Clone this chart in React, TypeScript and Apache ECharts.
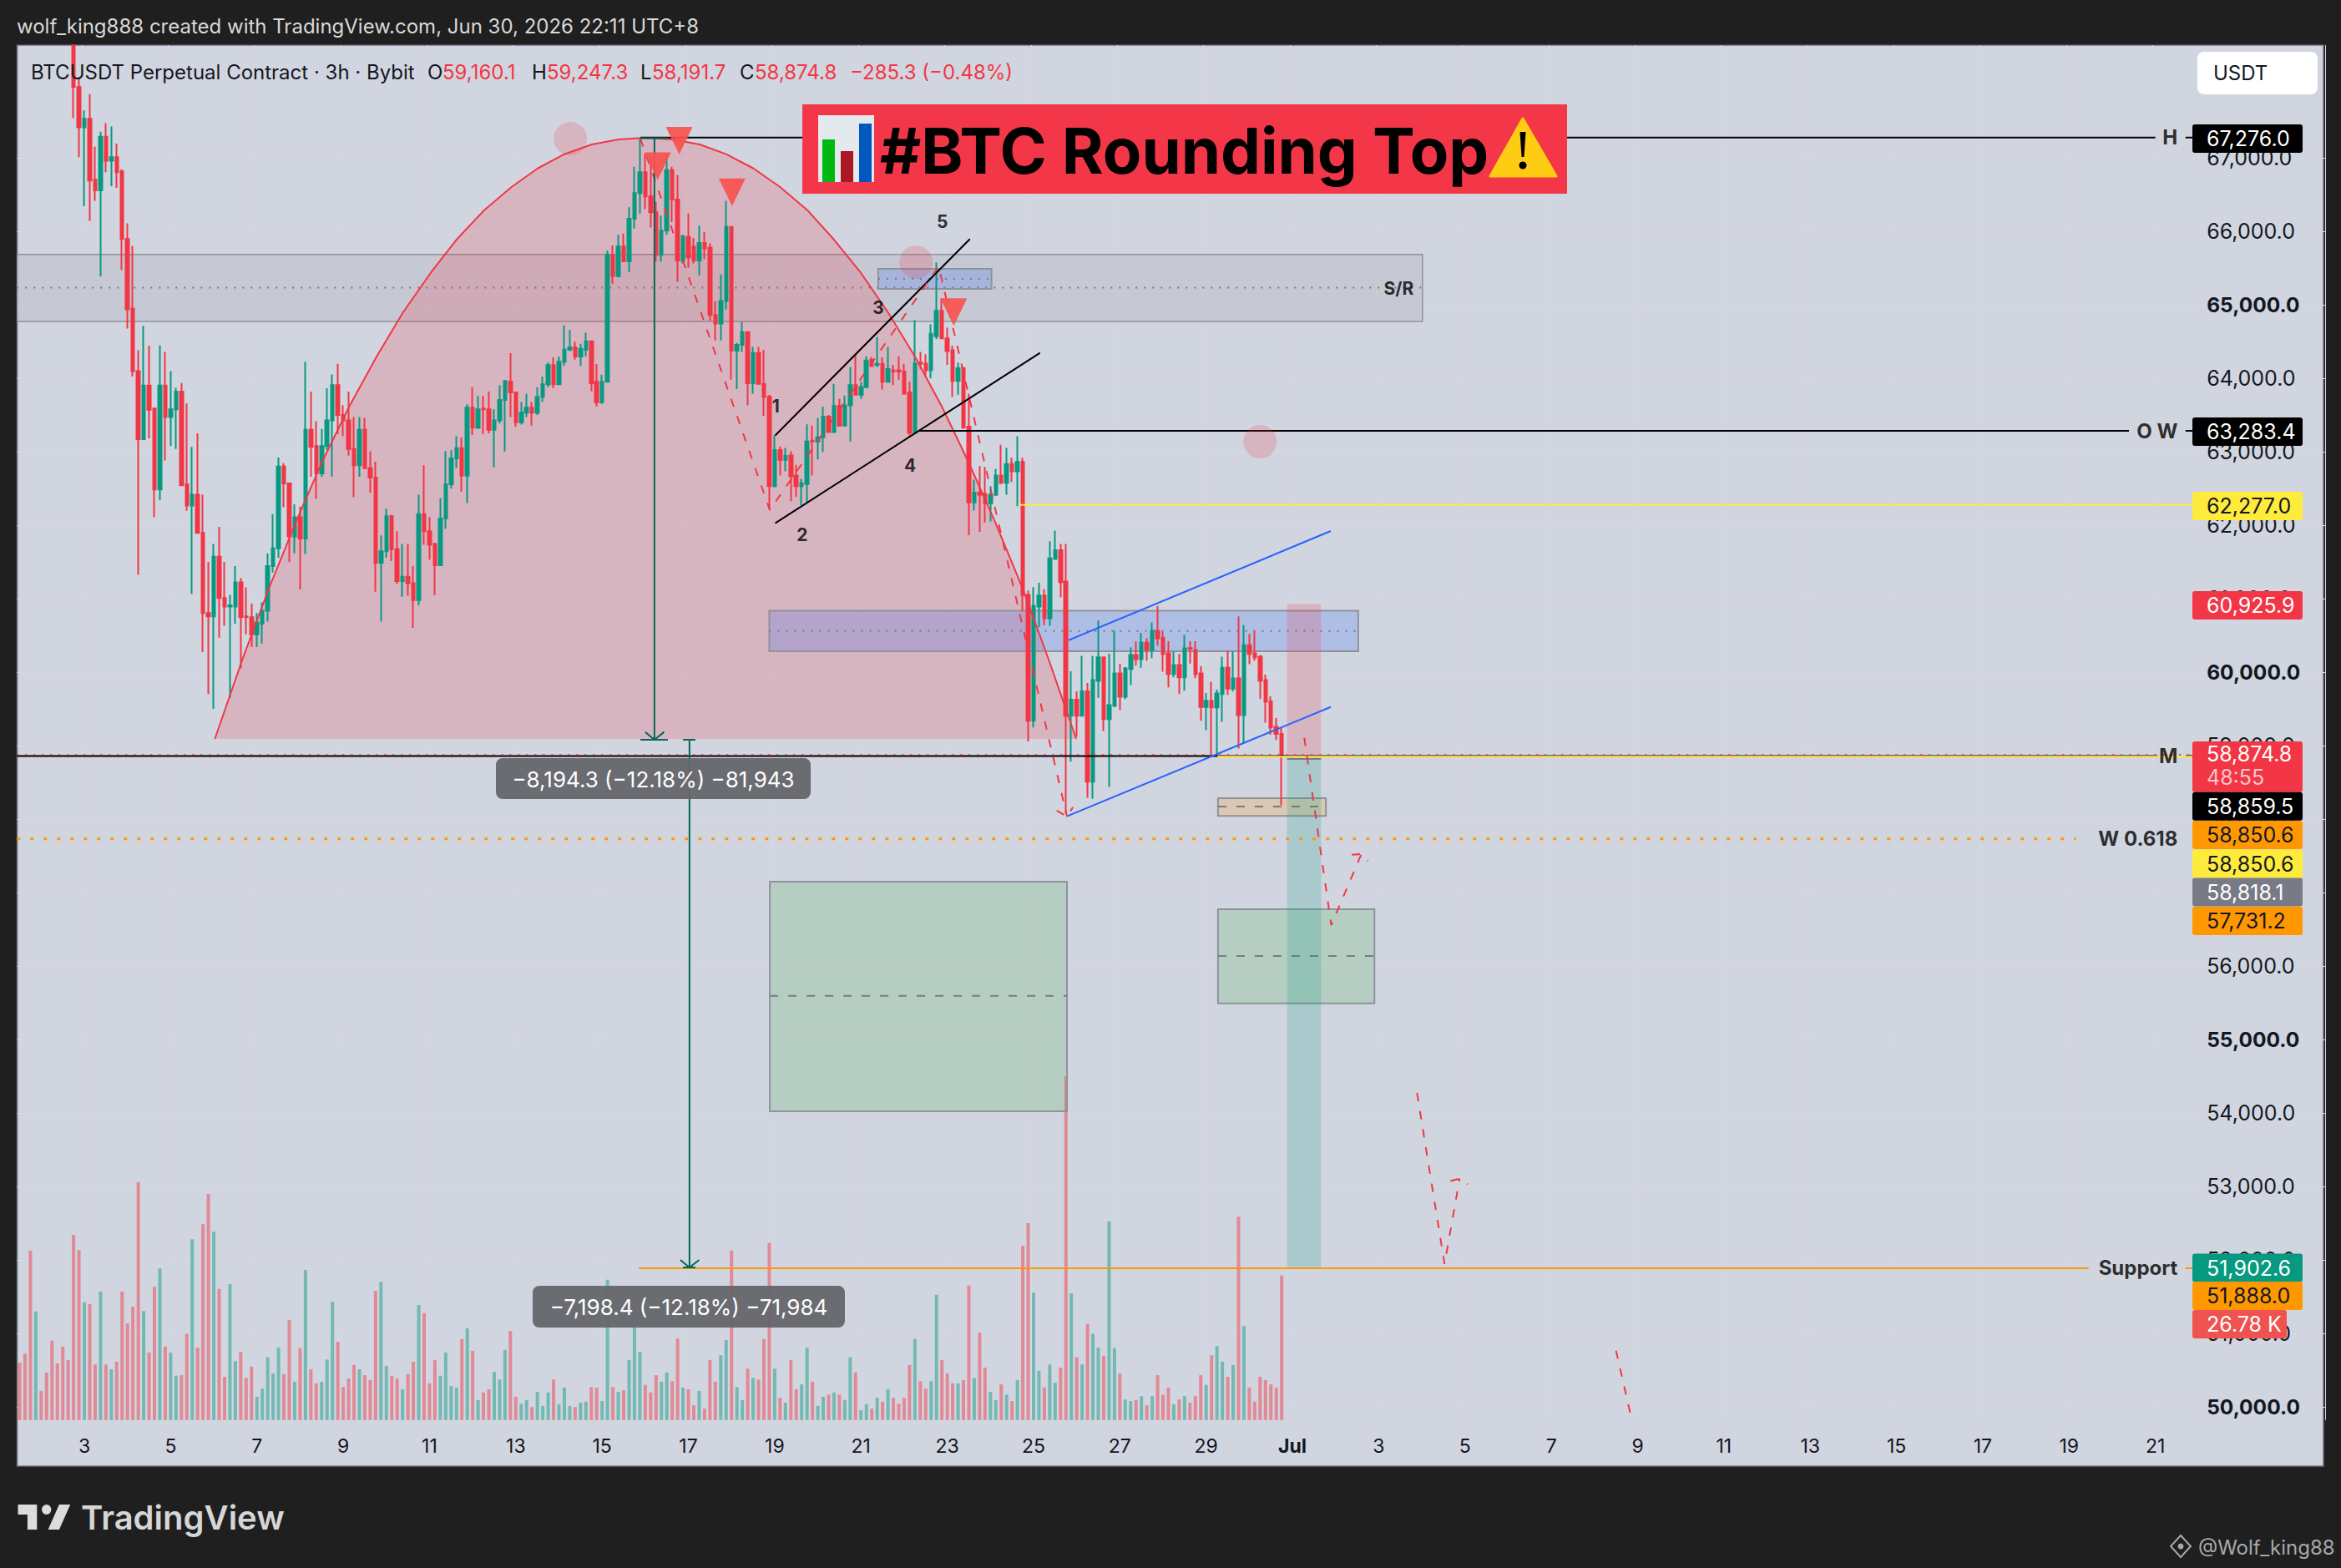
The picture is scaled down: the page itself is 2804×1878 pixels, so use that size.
import React, { useEffect, useRef } from "react";
import * as echarts from "echarts";

// ---- candles (3h bars, first ten sit above the visible panel) ----
const opens = [
  71500,71300,71100,70400,70800,70700,70400,70000,69700,69400,
  69000,67964,67414,67530,66701,66556,67286,66961,67008,66816,
  65895,64950,64098,63170,63900,63588,62486,63900,63471,63576,
  63819,62556,62266,62416,61895,60805,60759,61570,61008,60892,
  60892,61222,60759,60747,60515,60660,60834,61442,61686,62799,
  62567,61848,62109,61819,63298,63077,62706,63077,63425,63906,
  63500,63425,63037,62816,63298,62776,62648,61489,61646,62121,
  61674,61240,61298,61211,60979,62150,61918,61744,61454,62092,
  62556,62909,63048,62672,63600,63327,63588,63576,63298,63425,
  63704,63953,63808,63402,63530,63600,63530,63744,63918,64179,
  63918,64225,64388,64420,64295,64386,64502,63951,63673,63951,
  65678,65389,65794,65592,66171,66519,66803,66473,66258,65678,
  66009,66832,66432,65603,65922,65794,65603,65841,65777,64861,
  64745,65052,66061,64374,64455,64629,63933,64345,63922,63748,
  62531,63023,62890,62948,62676,62531,62560,63151,63139,63197,
  63476,63267,63621,63354,63632,63905,63777,63881,64252,64183,
  64195,63951,64108,64108,64090,63806,63255,64212,64200,64107,
  64571,64919,64542,64380,63962,64136,63342,62310,62444,62426,
  62299,62415,62676,62577,62832,62733,62861,61050,59338,60891,
  61043,60732,61539,61660,61232,59406,59626,59406,59740,58508,
  59880,60202,59361,59539,59982,59664,60042,60232,60175,60402,
  60304,60562,60467,60255,59974,60096,59929,60327,60300,59982,
  59527,59607,59520,59702,60061,59777,59914,59414,60368,60255,
  60209,59891,59603,59255,59160.1,
];
const closes = [
  71300,71100,70400,70800,70700,70400,70000,69700,69400,69000,
  67964,67414,67530,66689,66556,67286,66961,67008,66805,65895,
  64938,64098,63170,63900,63570,62486,63900,63471,63576,63819,
  62544,62266,62416,61895,60805,60759,61570,61008,60892,60910,
  61222,60747,60747,60515,60677,60834,61442,61686,62799,62567,
  61848,62109,61819,63298,63066,62706,63077,63425,63906,63500,
  63425,63037,62816,63298,62776,62648,61489,61646,62121,61674,
  61240,61298,61211,60979,62150,61918,61733,61454,62092,62556,
  62909,63048,62672,63600,63327,63576,63576,63298,63425,63704,
  63964,63808,63402,63530,63600,63530,63744,63918,64179,63918,
  64225,64388,64420,64295,64400,64502,63933,63673,63951,65678,
  65389,65794,65592,66171,66519,66803,66473,66258,65678,66009,
  66832,66432,65603,65933,65644,65603,65841,65765,64861,64745,
  65052,66061,64374,64455,64629,63933,64345,63922,63748,62531,
  63023,62890,62942,62664,62531,62572,63139,63139,63197,63476,
  63267,63621,63354,63632,63905,63777,63881,64241,64165,64195,
  63951,64125,64090,64090,63789,63255,64200,64195,64107,64606,
  64919,64542,64368,63962,64136,63331,62310,62444,62415,62299,
  62415,62676,62577,62832,62733,62861,61052,59338,60902,61043,
  60732,61547,61660,61225,59406,59626,59406,59740,58508,59891,
  60202,59361,59550,59982,59664,60050,60232,60175,60402,60304,
  60562,60459,60247,59974,60096,59929,60323,60319,59974,59527,
  59607,59520,59709,60061,59777,59914,59414,60368,60247,60202,
  59880,59596,59247,59160,58874.8,
];
const highs = [
  71600,71400,71200,70900,70900,70800,70500,70100,69800,69500,
  69100,68080,67645,67866,67153,67356,67472,67425,67193,66845,
  66109,65802,64382,64712,64440,63600,64446,64359,64098,63870,
  63935,63657,63066,63251,62416,61500,61744,61976,61500,61050,
  61442,61280,61153,60933,60805,60950,61617,62150,62921,62845,
  62573,62283,62254,64225,63819,63414,63310,63865,64051,64196,
  63634,63819,63473,63473,63460,63007,62863,61860,62225,62139,
  61918,61744,61744,61442,62416,62816,62109,61762,62370,63008,
  63020,63211,63193,63645,63877,63761,63761,63819,63576,63906,
  63964,64341,63810,63675,63790,63675,63877,64022,64214,64283,
  64295,64718,64660,64498,64469,64618,64502,64192,64049,65736,
  65806,65951,65968,66328,66878,67276,67050,67030,66403,66212,
  67052,66878,66763,65951,66241,65910,66078,65991,65835,65052,
  65412,66415,66061,64480,64763,64629,64426,64426,64386,63777,
  63226,63070,63052,63007,62820,62630,63371,63354,63458,63615,
  63499,63922,63719,63765,64154,64328,63951,64299,64287,64560,
  64287,64426,64183,64299,64195,63951,64792,64357,64328,64734,
  65574,65081,64687,64444,64212,64154,63789,62618,62803,62792,
  62530,62763,63093,63052,62919,63209,62919,61110,61156,61217,
  61130,61781,61925,61743,61743,60012,59740,60221,59853,60221,
  60705,60209,60251,60562,60115,60069,60334,60418,60535,60459,
  60675,60902,60550,60421,60285,60247,60505,60421,60421,60080,
  59717,59868,59762,60209,60296,60285,60759,60641,60520,60562,
  60232,59967,59671,59376,59247.3,
];
const lows = [
  71150,71000,70200,70300,70600,70300,69900,69600,69300,68900,
  67541,67008,66341,66138,66416,65385,66805,66613,66590,65471,
  64677,64022,61326,63170,63182,62109,62341,62880,63077,63037,
  62532,62196,61066,61895,60272,59703,59500,60469,60631,59650,
  60660,60051,60515,60341,60341,60388,60689,61355,61558,62243,
  61500,61617,61124,61605,62660,62358,62660,63020,62660,63240,
  63211,62950,62382,62660,62776,62440,61095,60689,61558,61512,
  61199,61025,61037,60602,60909,61733,61530,61049,61442,61953,
  62497,62776,62457,62300,63228,63310,63240,63251,62788,63385,
  63000,63473,63339,63368,63472,63356,63500,63675,63877,63865,
  63906,64167,64370,64254,64167,64299,63823,63615,63650,63939,
  65284,65371,65586,65447,66038,66241,66300,66050,65586,65586,
  65951,66125,65313,65563,65505,65563,65400,65620,64780,64513,
  64513,64936,63980,63852,64357,63632,63789,63922,63487,62223,
  62513,62676,62733,62328,62386,62270,62299,62676,62896,62994,
  63255,63267,63342,63342,63139,63765,63719,63864,64154,64154,
  63846,63939,63905,63980,63777,63197,63255,64125,64009,63997,
  64531,64531,64183,63748,63777,63313,61864,62200,61910,62038,
  62050,62397,62560,62415,62589,62258,60827,59058,59247,60611,
  60637,60630,61539,61016,58080,58781,59122,59406,58289,58277,
  59652,59198,58440,59539,59482,59633,59823,60088,60061,60156,
  60190,60361,60005,59793,59929,59702,59747,60118,59918,59338,
  59209,58857,58857,59323,59690,59736,58959,59027,60107,60156,
  59634,59312,59149,59077,58191.7,
];
// volume, thousands
const volumes = [
  10.6,12.3,31.4,20.1,5.4,8.8,14.7,10.5,13.6,11.1,
  34.3,31.5,21.8,21.5,10.3,23.8,10.3,9.4,10.8,23.8,
  17.9,21.0,44.1,20.2,12.5,24.7,28.1,13.6,12.5,8.2,
  8.3,16.0,33.5,13.4,36.3,41.9,34.9,24.3,8.0,25.2,
  10.9,12.6,7.8,9.9,4.3,5.8,11.6,8.6,13.4,8.5,
  18.5,7.1,13.3,27.8,9.4,6.8,7.1,11.2,21.9,14.5,
  6.1,7.7,10.2,9.4,8.3,7.4,23.9,25.6,10.0,8.2,
  7.7,5.7,8.5,10.8,21.3,19.8,6.8,11.1,8.2,12.5,
  6.3,6.0,15.0,17.0,12.8,3.7,5.1,5.7,8.9,7.5,
  13.0,16.5,4.3,3.0,3.7,2.4,5.2,2.6,5.1,7.5,
  2.9,6.0,2.6,2.4,3.2,3.4,6.1,6.0,3.5,26.0,
  6.1,5.2,5.5,11.1,17.4,12.6,6.5,5.1,8.3,7.1,
  8.8,7.2,15.1,6.0,5.7,2.7,5.4,2.1,11.1,7.1,
  12.0,14.8,31.4,6.1,3.7,9.5,7.8,7.5,15.0,32.8,
  9.5,4.1,3.2,11.1,5.7,6.6,13.4,7.1,2.6,4.3,
  4.7,5.1,4.7,3.7,11.6,8.8,1.8,2.9,2.1,4.1,
  3.4,5.7,4.1,3.0,4.1,10.2,15.0,7.2,5.8,7.2,
  23.2,11.1,8.6,6.8,6.8,7.4,24.9,7.8,16.2,9.7,
  5.2,3.7,6.6,4.7,3.5,7.4,32.3,36.5,23.6,9.1,
  6.0,10.3,6.9,9.7,63.7,23.5,11.6,10.3,17.8,16.0,
  13.4,11.9,36.8,13.3,8.6,3.8,3.5,3.7,4.4,2.7,
  4.4,8.3,4.7,6.0,2.9,3.8,4.4,3.2,4.4,8.3,
  6.5,12.0,13.7,10.8,8.0,10.2,37.7,17.4,6.0,3.4,
  8.0,7.4,6.6,6.0,26.78,
];

// ---- axes ----
const BAR_SLOTS = 428;
const dayLabels = ["3","5","7","9","11","13","15","17","19","21","23","25","27","29","Jul","3","5","7","9","11","13","15","17","19","21"];
const FIRST_LABEL_BAR = 12;
const BARS_PER_LABEL = 16;
const priceTicks = [50000,51000,52000,53000,54000,55000,56000,57000,58000,59000,60000,61000,62000,63000,64000,65000,66000,67000];
const boldTicks = [50000,55000,60000,65000];

// ---- drawings, in [bar, price] ----
const arcBars = [36.2,41.2,46.2,51.2,56.1,61.1,66.2,71.1,76.2,81,86.1,91.2,96.1,101,106.1,111.1,116,121,126.1,131,136,141,146.1,151,156,161,166,171,175.9,180.9,186,190.9,195.9];
const arcPrices = [59091,60151,61136,62039,62864,63614,64295,64898,65432,65886,66284,66602,66858,67049,67182,67250,67273,67250,67182,67049,66858,66602,66284,65886,65432,64898,64295,63614,62864,62039,61136,60151,59091];

const srZone = [-0.5,260.1,65686,64773,65233];
const upperBlueZone = [159.2,180.2,65489,65216,65352];
const midBlueZone = [139,248.2,60835,60284,60560];
const tanZone = [222.2,242.2,58284,58042,58170];
const greenZoneA = [139.1,194.2,57148,54023,55594];
const greenZoneB = [222.2,251.2,56773,55492,56136];
const riskStop = [235,241.3,60925.9,58818.1];
const riskTarget = [235,241.3,58818.1,51902.6];

const blackLines = [
  [[115.1,67276],[396,67276]], [[401.6,67276],[402.9,67276]],
  [[166.6,63283.4],[391.1,63283.4]], [[401.6,63283.4],[402.9,63283.4]],
  [[-0.5,58859.5],[396.4,58859.5]], [[401.6,58859.5],[402.9,58859.5]],
];
const channelBlack = [ [[140.1,63222],[176.2,65895]], [[140.1,62027],[189.2,64345]] ];
const channelBlue = [ [[194.5,60435],[243.1,61920]], [[194.2,58038],[243.1,59526]] ];
const yellowLines = [ [[185.2,62277],[402.9,62277]], [[222.1,58850.6],[402.9,58850.6]] ];
const currentPriceLine = [ [[-0.5,58874.8],[402.9,58874.8]] ];
const w618Line = [ [[-0.5,57731.2],[381.3,57731.2]] ];
const supportLine = [ [[114.8,51888],[383.6,51888]], [[401.6,51888],[402.9,51888]] ];
const riskEntryLine = [ [[235,58818.1],[241.3,58818.1]] ];
const forecastDashes = [
  [[115.1,67261],[139.1,62205],[170.4,65523],[194.2,58034]],
  [[192.3,58114],[194.2,58034],[195.3,58162]],
  [[238.2,59107],[243.2,56557],[248.8,57526]],
  [[247,57514],[248.8,57526],[250,57430]],
  [[259.1,54273],[264.2,51945],[267,53107]],
  [[265.3,53075],[267,53107],[268.5,53030]],
  [[296,50766],[298.6,49925]],
];
const measureLines = [
  [[117.7,67268],[117.7,59080]],
  [[115.1,67268],[120.2,67268]],
  [[115.1,59080],[120.2,59080]],
  [[116,59186],[117.7,59080],[119.5,59186]],
  [[124.2,59080],[124.2,51898]],
  [[123,59080],[125.3,59080]],
  [[123,51898],[125.3,51898]],
  [[122.5,52000],[124.2,51898],[126,52000]],
];
const sellMarkers = [[122.3,67234],[118.3,66886],[132.1,66532],[173.2,64901]];
const pinkDots = [[102.1,67261],[166.2,65580],[230,63136]];
const chartNotes = [
  [140.2,63614,"1"],[145.1,61875,"2"],[159.2,64955,"3"],[165.1,62807,"4"],[171.1,66136,"5"],[255.7,65227,"S/R"],
];
const levelNames = [
  ["H",67276],["O W",63283.4],["M",58859.5],["W 0.618",57731.2],["Support",51888],
];

// ---- texts ----
const watermarkLine = "wolf_king888 created with TradingView.com, Jun 30, 2026 22:11 UTC+8";
const titleText = "#BTC Rounding Top";
const measureTextA = "\u22128,194.3 (\u221212.18%) \u221281,943";
const measureTextB = "\u22127,198.4 (\u221212.18%) \u221271,984";
const priceTags = [
  { text: "67,276.0", fill: "#000000", ink: "#ffffff" },
  { text: "63,283.4", fill: "#000000", ink: "#ffffff" },
  { text: "62,277.0", fill: "#ffeb3b", ink: "#131722" },
  { text: "60,925.9", fill: "#f23645", ink: "#ffffff" },
  { text: "58,859.5", fill: "#000000", ink: "#ffffff" },
  { text: "58,850.6", fill: "#ff9800", ink: "#131722" },
  { text: "58,850.6", fill: "#ffeb3b", ink: "#131722" },
  { text: "58,818.1", fill: "#787b86", ink: "#ffffff" },
  { text: "57,731.2", fill: "#ff9800", ink: "#131722" },
  { text: "51,902.6", fill: "#089981", ink: "#ffffff" },
  { text: "51,888.0", fill: "#ff9800", ink: "#131722" },
];
const tagTops = [149, 500, 589, 708, 948.7, 983, 1017.6, 1051.6, 1086, 1501.5, 1535];

const FONT = "Inter, 'Noto Sans', sans-serif";
const LOGO = "M14 6H2v6h6v9h6V6Zm14 15h-7l7-15h7l-7 15Zm-8-9a3 3 0 1 0 0-6 3 3 0 0 0 0 6Z";
echarts.graphic.registerShape("tvlogo", echarts.graphic.extendPath(LOGO, {}));

const G_LEFT = 20.27, G_TOP = 54, G_W = 2764.9, G_H = 1646.7;

function lineSeries(name: string, segments: any[], color: string, width: number, type: any, z: number) {
  const data: any[] = [];
  segments.forEach((s, i) => {
    if (i) data.push(["-", "-"]);
    s.forEach((p: any) => data.push(p));
  });
  return {
    name, type: "line", xAxisIndex: 1, yAxisIndex: 0, data, z,
    showSymbol: false, symbol: "none", connectNulls: false, silent: true, animation: false,
    lineStyle: { color, width, type, cap: "butt" },
  };
}

function zoneSeries(name: string, zone: number[], fill: string, opts: any, z: number) {
  return {
    name, type: "custom", xAxisIndex: 1, yAxisIndex: 0, coordinateSystem: "cartesian2d", silent: true, z,
    data: [zone], encode: { x: [0, 1], y: [2, 3] }, clip: true,
    renderItem: (_: any, api: any) => {
      const a = api.coord([api.value(0), api.value(2)]);
      const b = api.coord([api.value(1), api.value(3)]);
      const children: any[] = [{
        type: "rect",
        shape: { x: a[0], y: a[1], width: b[0] - a[0], height: b[1] - a[1] },
        style: { fill, stroke: opts.border || "none", lineWidth: opts.borderWidth || 0 },
      }];
      if (zone.length > 4 && opts.mid) {
        const m = api.coord([api.value(0), zone[4]]);
        children.push({
          type: "line",
          shape: { x1: a[0], y1: m[1], x2: b[0], y2: m[1] },
          style: { stroke: "#787b86", lineWidth: 2, lineDash: opts.mid, fill: "none" },
        });
      }
      return { type: "group", children };
    },
  };
}

function tagRect(x: number, y: number, w: number, h: number, fill: string) {
  return { type: "rect", z: 100, shape: { x, y, width: w, height: h, r: 3 }, style: { fill } };
}
function label(text: string, x: number, y: number, fill: string, font: string, align = "left", z = 101) {
  return { type: "text", z, x, y, style: { text, fill, font, textAlign: align, textVerticalAlign: "middle" } };
}

export default function App() {
  const ref = useRef<HTMLDivElement>(null);
  useEffect(() => {
    const chart = echarts.init(ref.current!, undefined, { renderer: "svg" });
    const categories = new Array(BAR_SLOTS).fill("");
    dayLabels.forEach((d, i) => { categories[FIRST_LABEL_BAR + i * BARS_PER_LABEL] = d; });
    const candleRows = opens.map((o, i) => [o, closes[i], lows[i], highs[i]]);
    const volumeRows = volumes.map((v, i) => ({
      value: v,
      itemStyle: { color: closes[i] >= opens[i] ? "rgba(8,153,129,0.47)" : "rgba(242,54,69,0.47)" },
    }));
    const tagFont = `25px ${FONT}`;
    const legendFont = `24px ${FONT}`;
    const measureFont = `26px ${FONT}`;
    const graphicEls: any[] = [
      { type: "rect", z: -10, shape: { x: 20.5, y: 54, width: 2762.5, height: 1702 }, style: { fill: "#d1d5df", stroke: "#6a6d74", lineWidth: 1.5 } },
      // header strip: bars above the panel stay behind it
      { type: "rect", z: 50, shape: { x: 0, y: 0, width: 2804, height: 53.2 }, style: { fill: "#1f1f1f" } },
      label(watermarkLine, 20, 31, "#d9d9d9", legendFont),
      label("BTCUSDT Perpetual Contract \u00b7 3h \u00b7 Bybit", 37, 86, "#131722", legendFont),
      label("O", 512, 86, "#131722", legendFont), label("59,160.1", 530, 86, "#f23645", legendFont),
      label("H", 637, 86, "#131722", legendFont), label("59,247.3", 655, 86, "#f23645", legendFont),
      label("L", 767, 86, "#131722", legendFont), label("58,191.7", 781, 86, "#f23645", legendFont),
      label("C", 886, 86, "#131722", legendFont), label("58,874.8", 904, 86, "#f23645", legendFont),
      label("\u2212285.3 (\u22120.48%)", 1018, 86, "#f23645", legendFont),
      // unit box
      { type: "rect", z: 100, shape: { x: 2632, y: 62, width: 144, height: 51, r: 8 }, style: { fill: "#ffffff" } },
      label("USDT", 2651, 87, "#131722", `24px ${FONT}`),
      // title banner
      { type: "rect", z: 100, shape: { x: 961, y: 125, width: 916, height: 107 }, style: { fill: "#f43748" } },
      { type: "rect", z: 101, shape: { x: 980, y: 138, width: 67, height: 80 }, style: { fill: "#e4e9ee" } },
      { type: "rect", z: 102, shape: { x: 985, y: 167, width: 15, height: 51 }, style: { fill: "#00b812" } },
      { type: "rect", z: 102, shape: { x: 1007, y: 181, width: 15, height: 37 }, style: { fill: "#ab1722" } },
      { type: "rect", z: 102, shape: { x: 1029, y: 148, width: 15, height: 70 }, style: { fill: "#0058bd" } },
      label(titleText, 1054, 180, "#000000", `700 76px ${FONT}`),
      { type: "polygon", z: 101, shape: { points: [[1824,142],[1864,211],[1785,211]] }, style: { fill: "#ffcc14", stroke: "#ffcc14", lineWidth: 3, lineJoin: "round" } },
      { type: "polygon", z: 102, shape: { points: [[1820.5,158],[1827.5,158],[1825.5,188],[1822.5,188]] }, style: { fill: "#000" } },
      { type: "circle", z: 102, shape: { cx: 1824, cy: 198, r: 4.5 }, style: { fill: "#000" } },
      // measure labels
      { type: "rect", z: 100, shape: { x: 594, y: 908, width: 377, height: 49, r: 8 }, style: { fill: "rgba(100,102,108,0.95)" } },
      label(measureTextA, 782.5, 933, "#ffffff", measureFont, "center"),
      { type: "rect", z: 100, shape: { x: 638, y: 1540, width: 374, height: 50, r: 8 }, style: { fill: "rgba(100,102,108,0.95)" } },
      label(measureTextB, 825, 1565, "#ffffff", measureFont, "center"),
      // live price + countdown and volume tag
      tagRect(2626, 888, 132, 60.7, "#f23645"),
      label("58,874.8", 2643, 903, "#ffffff", tagFont),
      label("48:55", 2643, 931, "rgba(255,255,255,0.72)", tagFont),
      tagRect(2626, 1569, 113, 34, "#ef5350"),
      label("26.78 K", 2643, 1586, "#ffffff", tagFont),
      // footer
      { type: "tvlogo", z: 100, x: 17.7, y: 1790, scaleX: 1.9, scaleY: 2, style: { fill: "#dcdcdc" } },
      label("TradingView", 97, 1817, "#d6d6d6", `600 40px ${FONT}`),
      label("@Wolf_king88", 2633, 1853, "#a8a8a8", `24px ${FONT}`),
      { type: "polygon", z: 100, shape: { points: [[2612,1839],[2624,1852],[2612,1865],[2600,1852]] }, style: { fill: "none", stroke: "#a8a8a8", lineWidth: 2 } },
      { type: "circle", z: 100, shape: { cx: 2612, cy: 1852, r: 3.5 }, style: { fill: "#a8a8a8" } },
    ];
    priceTags.forEach((t, i) => {
      graphicEls.push(tagRect(2626, tagTops[i], 132, 34, t.fill));
      graphicEls.push(label(t.text, 2643, tagTops[i] + 17, t.ink, tagFont));
    });

    chart.setOption({
      animation: false,
      backgroundColor: "#1f1f1f",
      grid: { left: G_LEFT, top: G_TOP, width: G_W, height: G_H, containLabel: false },
      graphic: { elements: graphicEls },
      xAxis: [
        {
          type: "category", data: categories, boundaryGap: true,
          axisLine: { show: false }, axisTick: { show: false },
          axisLabel: {
            interval: (_: number, v: string) => v !== "", margin: 20, hideOverlap: false,
            formatter: (v: string) => (v === "Jul" ? `{b|${v}}` : `{n|${v}}`),
            rich: {
              n: { fontFamily: FONT, fontSize: 23, color: "#131722" },
              b: { fontFamily: FONT, fontSize: 23, fontWeight: 700, color: "#131722" },
            },
          },
          splitLine: { show: true, interval: (_: number, v: string) => v !== "", lineStyle: { color: "#d5d8e2", width: 1 } },
        },
        { type: "value", min: -0.5, max: 427.5, show: false, splitLine: { show: false } },
      ],
      yAxis: [
        {
          type: "value", position: "right", min: 49822, max: 68534, scale: true,
          axisLine: { show: false },
          axisTick: { show: false, customValues: priceTicks },
          splitLine: { show: true, lineStyle: { color: "#d5d8e2", width: 1 } },
          axisLabel: {
            inside: true, margin: 142, align: "left", customValues: priceTicks,
            formatter: (v: number) => {
              const s = v.toLocaleString("en-US") + ".0";
              return boldTicks.includes(v) ? `{b|${s}}` : `{n|${s}}`;
            },
            rich: {
              n: { fontFamily: FONT, fontSize: 25, color: "#131722" },
              b: { fontFamily: FONT, fontSize: 24.5, fontWeight: 700, color: "#131722" },
            },
          },
        },
        { type: "value", min: 0, max: 254.9, show: false, splitLine: { show: false } },
      ],
      series: [
        { name: "Volume", type: "bar", xAxisIndex: 0, yAxisIndex: 1, data: volumeRows, barWidth: 4, z: 1, silent: true },
        zoneSeries("S/R zone", srZone, "rgba(120,123,134,0.13)", { border: "#8f929c", borderWidth: 1.5, mid: [2, 8] }, 2),
        {
          name: "Rounding top fill", type: "custom", xAxisIndex: 1, yAxisIndex: 0, coordinateSystem: "cartesian2d", silent: true, z: 2,
          data: arcBars.map((b, i) => [b, arcPrices[i]]), encode: { x: 0, y: 1 },
          renderItem: (params: any, api: any) => {
            if (params.dataIndex !== 0) return null;
            const points = arcBars.map((b, i) => api.coord([b, arcPrices[i]]));
            return { type: "polygon", shape: { points }, style: { fill: "rgba(242,54,69,0.2)" } };
          },
        },
        zoneSeries("Upper supply", upperBlueZone, "rgba(41,98,255,0.2)", { border: "#8f929c", borderWidth: 2, mid: [2, 8] }, 2),
        zoneSeries("Mid supply", midBlueZone, "rgba(41,98,255,0.2)", { border: "#8f929c", borderWidth: 2, mid: [2, 8] }, 2),
        zoneSeries("Demand A", greenZoneA, "rgba(76,175,80,0.2)", { border: "#8f929c", borderWidth: 2, mid: [10, 12] }, 2),
        zoneSeries("Demand B", greenZoneB, "rgba(76,175,80,0.2)", { border: "#8f929c", borderWidth: 2, mid: [10, 12] }, 2),
        zoneSeries("Entry", tanZone, "rgba(255,152,0,0.2)", { border: "#8f929c", borderWidth: 2, mid: [10, 12] }, 2),
        zoneSeries("Risk", riskStop, "rgba(242,54,69,0.2)", {}, 2),
        zoneSeries("Reward", riskTarget, "rgba(8,153,129,0.2)", {}, 2),
        {
          name: "BTCUSDT", type: "candlestick", xAxisIndex: 0, yAxisIndex: 0, data: candleRows, barWidth: 4, z: 3, clip: true, silent: true,
          itemStyle: { color: "#089981", color0: "#f23645", borderColor: "#089981", borderColor0: "#f23645", borderWidth: 2 },
        },
        {
          name: "Rounding top", type: "line", xAxisIndex: 1, yAxisIndex: 0, z: 4, showSymbol: false, symbol: "none", silent: true,
          data: arcBars.map((b, i) => [b, arcPrices[i]]),
          lineStyle: { color: "#f23645", width: 2 },
        },
        lineSeries("Levels", blackLines, "#000000", 2, "solid", 4),
        lineSeries("Rising channel", channelBlack, "#000000", 2, "solid", 4),
        lineSeries("Blue channel", channelBlue, "#2962ff", 2, "solid", 4),
        lineSeries("Yellow levels", yellowLines, "#ffeb3b", 2, "solid", 4),
        lineSeries("Last price", currentPriceLine, "#f23645", 2, [2, 8], 5),
        lineSeries("W 0.618 line", w618Line, "#ff9800", 3, [4, 12], 4),
        lineSeries("Support line", supportLine, "#ff9800", 2, "solid", 4),
        lineSeries("Risk entry", riskEntryLine, "#787b86", 2, "solid", 4),
        lineSeries("Forecast", forecastDashes, "#f23645", 2, [10, 12], 5),
        lineSeries("Measure", measureLines, "#056656", 2, "solid", 5),
        {
          name: "Tops", type: "scatter", xAxisIndex: 1, yAxisIndex: 0, z: 6, silent: true, symbol: "triangle", symbolRotate: 180, symbolSize: [32, 33],
          data: sellMarkers, itemStyle: { color: "#f9524f", opacity: 0.92 },
        },
        {
          name: "Marks", type: "scatter", xAxisIndex: 1, yAxisIndex: 0, z: 6, silent: true, symbol: "circle", symbolSize: 40,
          data: pinkDots, itemStyle: { color: "rgba(242,54,69,0.25)" },
        },
        {
          name: "Notes", type: "scatter", xAxisIndex: 1, yAxisIndex: 0, z: 7, silent: true, symbolSize: 1,
          data: chartNotes, itemStyle: { color: "rgba(0,0,0,0)" },
          label: {
            show: true, position: "inside", formatter: (p: any) => p.value[2],
            color: "#000000", fontFamily: FONT, fontWeight: 700, fontSize: 21,
          },
        },
        {
          name: "Level names", type: "scatter", xAxisIndex: 1, yAxisIndex: 0, z: 7, silent: true, symbolSize: 1,
          data: levelNames.map((l) => [400.2, l[1], l[0]]), itemStyle: { color: "rgba(0,0,0,0)" },
          label: {
            show: true, position: "left", distance: 0, formatter: (p: any) => p.value[2],
            color: "#000000", fontFamily: FONT, fontWeight: 700, fontSize: 24,
          },
        },
      ],
    });
    return () => chart.dispose();
  }, []);
  return <div ref={ref} style={{ position: "fixed", left: 0, top: 0, width: 2804, height: 1878 }} />;
}
